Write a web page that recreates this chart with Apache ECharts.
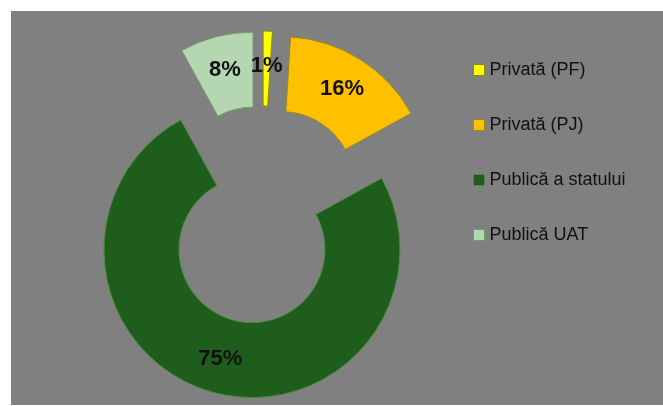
<!DOCTYPE html>
<html>
<head>
<meta charset="utf-8">
<title>Structura proprietății</title>
<script src="https://cdn.jsdelivr.net/npm/echarts@6/dist/echarts.min.js"></script>
<style>
  html, body { margin: 0; padding: 0; background: #ffffff; }
  #chart { width: 663px; height: 406px; }
</style>
</head>
<body>
<div id="chart"></div>
<script>
// Ownership categories and their shares (%)
const categories = ['Privată (PF)', 'Privată (PJ)', 'Publică a statului', 'Publică UAT'];
const shares = [1, 16, 75, 8];

// Slice styling, one entry per category
const sliceFill = ['#ffff00', '#ffc000', '#1f5d1d', '#b4d7b2'];
const sliceEdge = ['#8a8a10', '#9a8a20', '#4d8a3e', '#6f9f68'];

const chart = echarts.init(document.getElementById('chart'), null, { renderer: 'canvas' });

// Donut geometry; every slice is pulled out from the common centre
const cx = 262, cy = 215;
const rInner = 73, rOuter = 148;
const explode = 36;

const total = shares.reduce((a, b) => a + b, 0);
let acc = 0;
const series = categories.map((name, i) => {
  const mid = (acc + shares[i] / 2) / total * 2 * Math.PI; // clockwise from 12 o'clock
  acc += shares[i];
  const center = [cx + explode * Math.sin(mid), cy - explode * Math.cos(mid)];
  return {
    type: 'pie',
    name: name,
    center: center,
    radius: [rInner, rOuter],
    startAngle: 90,
    clockwise: true,
    silent: true,
    avoidLabelOverlap: false,
    emphasis: { disabled: true },
    labelLine: { show: false },
    data: categories.map((c, j) => ({
      name: c,
      value: shares[j],
      itemStyle: j === i
        ? { color: sliceFill[j], borderColor: sliceEdge[j], borderWidth: 1 }
        : { color: 'rgba(0,0,0,0)', borderWidth: 0 },
      label: {
        show: j === i,
        position: 'inside',
        formatter: p => Math.round(p.percent) + '%',
        color: '#111111',
        fontFamily: 'Liberation Sans',
        fontWeight: 'bold',
        fontSize: 22
      }
    }))
  };
});

chart.setOption({
  animation: false,
  backgroundColor: '#ffffff',
  graphic: [{
    type: 'rect',
    z: -10,
    shape: { x: 11, y: 11, width: 652, height: 394 },
    style: { fill: '#808080' },
    silent: true
  }],
  legend: {
    orient: 'vertical',
    left: 468,
    top: 56,
    icon: 'rect',
    itemWidth: 11,
    itemHeight: 11,
    itemGap: 37,
    selectedMode: false,
    textStyle: {
      color: '#111111',
      fontFamily: 'Liberation Sans',
      fontSize: 18,
      lineHeight: 18
    },
    data: categories.map((c, j) => ({
      name: c,
      itemStyle: { color: sliceFill[j], borderColor: sliceEdge[j], borderWidth: 1 }
    }))
  },
  series: series
});
</script>
</body>
</html>
